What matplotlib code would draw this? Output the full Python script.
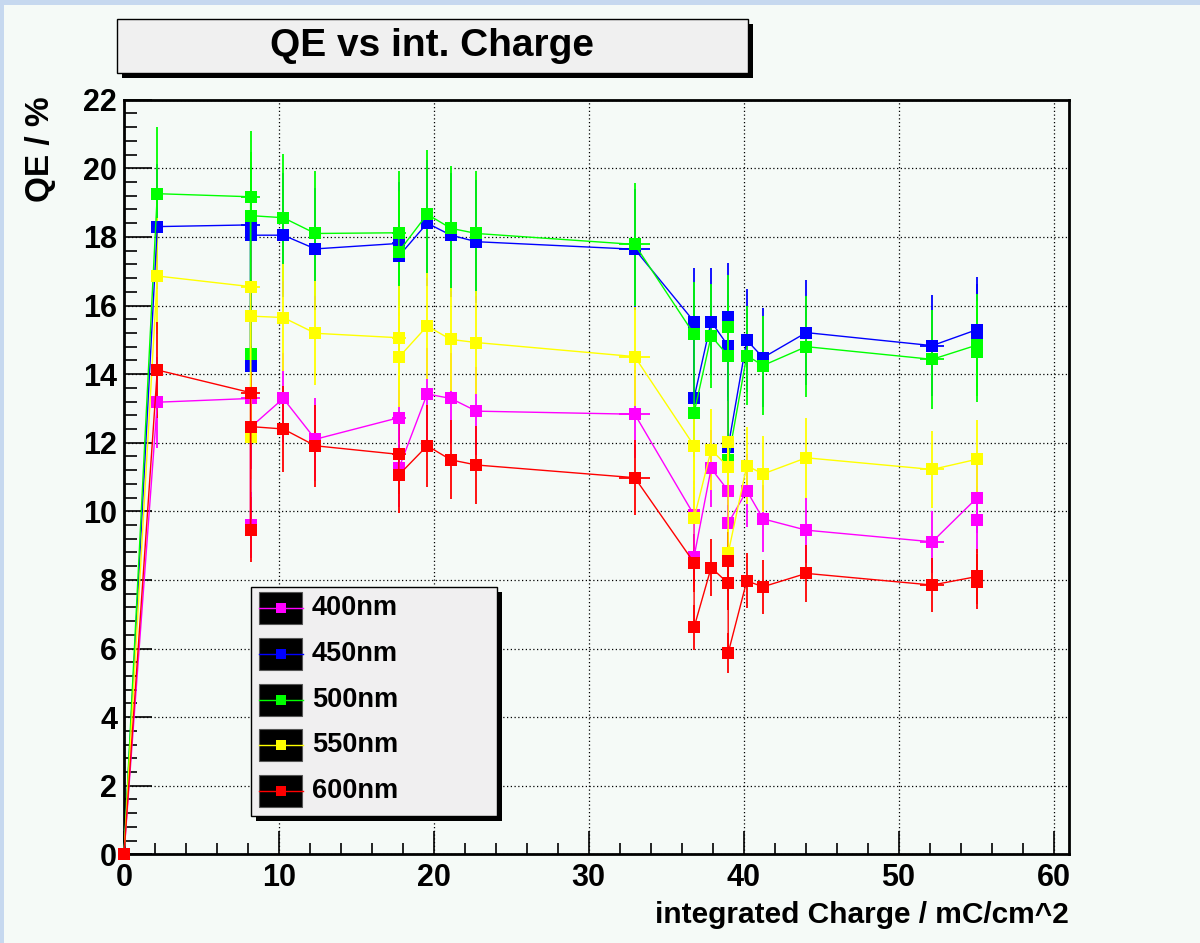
import matplotlib.pyplot as plt
from matplotlib.patches import Rectangle
from matplotlib.lines import Line2D
from matplotlib.ticker import MultipleLocator

# integrated charge (mC/cm^2) and QE (%) per wavelength, in plotting order
x_400 = [0, 2.15, 8.17, 8.17, 8.17, 10.28, 12.35, 17.74, 17.74, 19.57, 21.10, 22.75, 32.97,
         36.80, 36.80, 37.90, 39.00, 39.00, 40.20, 41.25, 44.04, 52.17, 55.08, 55.08]
y_400 = [0, 13.18, 13.29, 9.60, 12.45, 13.29, 12.10, 12.73, 11.25, 13.42, 13.29, 12.92, 12.83,
         9.89, 8.68, 11.25, 10.60, 9.65, 10.60, 9.78, 9.45, 9.11, 10.40, 9.75]
ey_400 = [0, 1.32, 1.33, 0.96, 1.25, 1.33, 1.21, 1.27, 1.13, 1.34, 1.33, 1.29, 1.28,
          0.99, 0.87, 1.13, 1.06, 0.97, 1.06, 0.98, 0.95, 0.91, 1.04, 0.98]
ex_400 = [0, 0, 0.6, 0, 0, 0, 0, 0.45, 0, 0, 0, 0, 1.0,
          0, 0, 0, 0, 0, 0, 0, 0, 0.77, 0, 0]

x_450 = [0, 2.15, 8.17, 8.17, 8.17, 10.28, 12.35, 17.74, 17.74, 19.57, 21.10, 22.75, 32.97,
         36.80, 36.80, 37.90, 39.00, 39.00, 39.00, 40.20, 41.25, 44.04, 52.17, 55.08, 55.08]
y_450 = [0, 18.30, 18.35, 14.24, 18.05, 18.05, 17.65, 17.81, 17.44, 18.40, 18.05, 17.86, 17.64,
         15.53, 13.31, 15.53, 14.82, 15.67, 11.88, 14.99, 14.48, 15.21, 14.83, 15.30, 15.12]
ey_450 = [0, 1.83, 1.84, 1.42, 1.81, 1.81, 1.77, 1.78, 1.74, 1.84, 1.81, 1.79, 1.76,
          1.55, 1.33, 1.55, 1.48, 1.57, 1.19, 1.50, 1.45, 1.52, 1.48, 1.53, 1.51]
ex_450 = [0, 0, 0.6, 0, 0, 0, 0, 0.45, 0, 0, 0, 0, 1.0,
          0, 0, 0, 0, 0, 0, 0, 0, 0, 0.77, 0, 0]

x_500 = [0, 2.15, 8.17, 8.17, 8.17, 10.28, 12.35, 17.74, 17.74, 19.57, 21.10, 22.75, 32.97,
         36.80, 36.80, 37.90, 39.00, 39.00, 39.00, 40.20, 41.25, 44.04, 52.17, 55.08, 55.08]
y_500 = [0, 19.26, 19.17, 14.59, 18.62, 18.56, 18.10, 18.12, 17.57, 18.66, 18.25, 18.10, 17.78,
         15.16, 12.87, 15.11, 14.53, 15.36, 11.50, 14.54, 14.25, 14.80, 14.43, 14.85, 14.65]
ey_500 = [0, 1.93, 1.92, 1.46, 1.86, 1.86, 1.81, 1.81, 1.76, 1.87, 1.83, 1.81, 1.78,
          1.52, 1.29, 1.51, 1.45, 1.54, 1.15, 1.45, 1.43, 1.48, 1.44, 1.49, 1.47]
ex_500 = ex_450

x_550 = [0, 2.15, 8.17, 8.17, 8.17, 10.28, 12.35, 17.74, 17.74, 19.57, 21.10, 22.75, 32.97,
         36.80, 36.80, 37.90, 39.00, 39.00, 39.00, 40.20, 41.25, 44.04, 52.17, 55.08]
y_550 = [0, 16.86, 16.55, 12.16, 15.69, 15.65, 15.19, 15.06, 14.49, 15.40, 15.01, 14.92, 14.51,
         11.91, 9.80, 11.79, 11.30, 12.03, 8.78, 11.33, 11.09, 11.56, 11.22, 11.52]
ey_550 = [0, 1.69, 1.66, 1.22, 1.57, 1.57, 1.52, 1.51, 1.45, 1.54, 1.50, 1.49, 1.45,
          1.19, 0.98, 1.18, 1.13, 1.20, 0.88, 1.13, 1.11, 1.16, 1.12, 1.15]
ex_550 = [0, 0, 0.6, 0, 0, 0, 0, 0.45, 0, 0, 0, 0, 1.0,
          0, 0, 0, 0, 0, 0, 0, 0, 0, 0.77, 0]

x_600 = x_450
y_600 = [0, 14.12, 13.46, 9.46, 12.47, 12.40, 11.91, 11.66, 11.06, 11.91, 11.50, 11.35, 10.98,
         8.50, 6.62, 8.36, 7.90, 8.55, 5.87, 7.97, 7.80, 8.19, 7.85, 8.10, 7.95]
ey_600 = [0, 1.41, 1.35, 0.95, 1.25, 1.24, 1.19, 1.17, 1.11, 1.19, 1.15, 1.14, 1.10,
          0.85, 0.66, 0.84, 0.79, 0.86, 0.59, 0.80, 0.78, 0.82, 0.79, 0.81, 0.80]
ex_600 = ex_450

labels = ['400nm', '450nm', '500nm', '550nm', '600nm']
colors = ['#ff00ff', '#0000ff', '#00ff00', '#ffff00', '#ff0000']

series = [(x_400, y_400, ex_400, ey_400), (x_450, y_450, ex_450, ey_450),
          (x_500, y_500, ex_500, ey_500), (x_550, y_550, ex_550, ey_550),
          (x_600, y_600, ex_600, ey_600)]

BG = '#f5faf7'
W, H = 1200, 943

plt.rcParams['font.family'] = ['Liberation Sans', 'DejaVu Sans']
plt.rcParams['font.weight'] = 'bold'


def fx(px):
    return px / W


def fy(py):
    return 1 - py / H


fig = plt.figure(figsize=(12, 9.43), dpi=100, facecolor=BG)
fig.patches.append(Rectangle((0, fy(5)), 1, 5 / H, transform=fig.transFigure,
                             facecolor='#c6d8ef', edgecolor='none', zorder=0))
fig.patches.append(Rectangle((0, 0), 4 / W, 1, transform=fig.transFigure,
                             facecolor='#c6d8ef', edgecolor='none', zorder=0))

ax = fig.add_axes([fx(124), fy(854.3), (1069 - 124) / W, (854.3 - 99.7) / H])
ax.set_facecolor(BG)

for (x, y, ex, ey), c in zip(series, colors):
    eb = ax.errorbar(x, y, xerr=ex, yerr=ey, fmt='s-', color=c, ms=8, mew=0,
                     lw=1.0, elinewidth=1.3, capsize=3, capthick=1.3, zorder=3)
    eb[0].set_clip_on(False)

ax.set_xlim(0, 61)
ax.set_ylim(0, 22)
ax.xaxis.set_major_locator(MultipleLocator(10))
ax.xaxis.set_minor_locator(MultipleLocator(2))
ax.yaxis.set_major_locator(MultipleLocator(2))
ax.yaxis.set_minor_locator(MultipleLocator(0.4))
ax.grid(True, which='major', color='black', linestyle=(0, (1, 2)), linewidth=0.9)
ax.set_axisbelow(True)
ax.tick_params(which='both', direction='in', top=False, right=False, width=1.2, labelsize=22)
ax.tick_params(axis='x', which='major', length=16.5, pad=6)
ax.tick_params(axis='x', which='minor', length=8)
ax.tick_params(axis='y', which='major', length=20, pad=5)
ax.tick_params(axis='y', which='minor', length=9.5)
for s in ax.spines.values():
    s.set_linewidth(2)

fig.text(fx(1069), fy(923), 'integrated Charge / mC/cm^2', ha='right', va='baseline',
         fontsize=21.5, fontweight='bold')
fig.text(fx(40), fy(96), 'QE / %', rotation=90, ha='center', va='top',
         fontsize=24, fontweight='bold')

# title box
fig.patches.append(Rectangle((fx(122), fy(78)), (748 - 117) / W, (73 - 19) / H,
                             transform=fig.transFigure, facecolor='black', edgecolor='none', zorder=4))
fig.patches.append(Rectangle((fx(117), fy(73)), (748 - 117) / W, (73 - 19) / H,
                             transform=fig.transFigure, facecolor='#f0f0f0', edgecolor='black',
                             lw=1, zorder=5))
fig.text(fx(432), fy(46), 'QE vs int. Charge', ha='center', va='center',
         fontsize=28, fontweight='bold', zorder=6)

# legend box
fig.patches.append(Rectangle((fx(256), fy(821)), (497 - 251) / W, (816 - 587) / H,
                             transform=fig.transFigure, facecolor='black', edgecolor='none', zorder=4))
fig.patches.append(Rectangle((fx(251), fy(816)), (497 - 251) / W, (816 - 587) / H,
                             transform=fig.transFigure, facecolor='#f0eff0', edgecolor='black',
                             lw=1, zorder=5))
for i, (lab, c) in enumerate(zip(labels, colors)):
    cy = 608 + i * 45.8
    fig.patches.append(Rectangle((fx(259), fy(cy + 16)), 43 / W, 32 / H, transform=fig.transFigure,
                                 facecolor='black', edgecolor='#555555', lw=0.8, zorder=6))
    fig.lines.append(Line2D([fx(259), fx(303)], [fy(cy), fy(cy)], transform=fig.transFigure,
                            color=c, lw=1.0, zorder=7))
    fig.lines.append(Line2D([fx(281)], [fy(cy)], transform=fig.transFigure, marker='s',
                            ms=7, mew=0, color=c, zorder=8))
    fig.text(fx(312), fy(cy), lab, ha='left', va='center', fontsize=19.5,
             fontweight='bold', zorder=8)

fig.savefig('out.png', dpi=100, facecolor=BG)
